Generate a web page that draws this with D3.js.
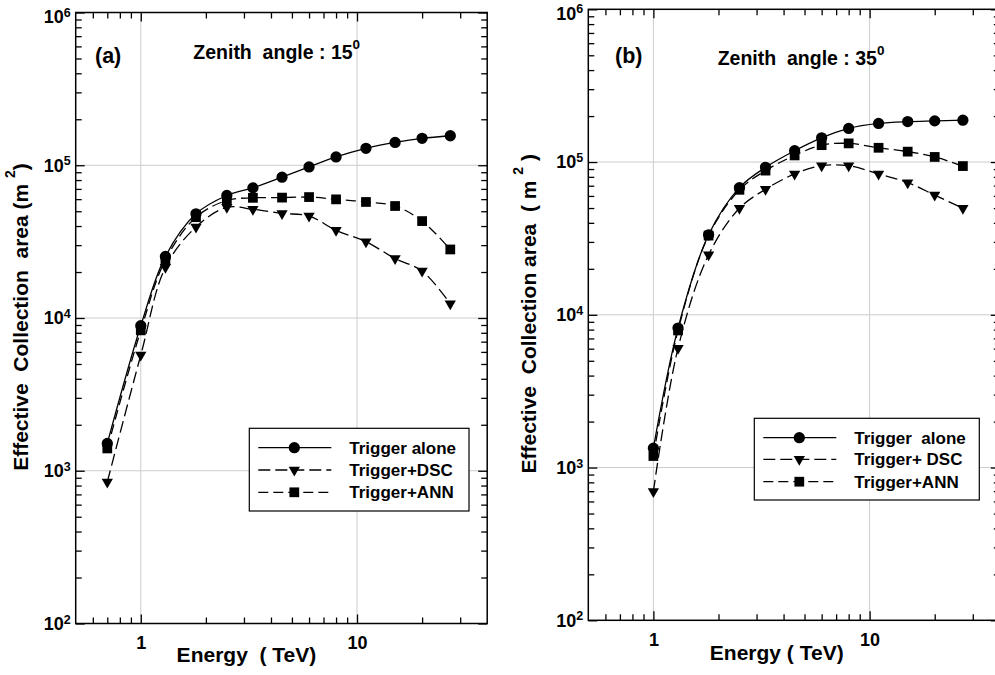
<!DOCTYPE html>
<html>
<head>
<meta charset="utf-8">
<script src="https://cdn.jsdelivr.net/npm/d3@7"></script>
<style>
  body { margin: 0; background: #fff; }
  svg text { font-family: "Liberation Sans", Arial, Helvetica, sans-serif; font-weight: bold; white-space: pre; }
</style>
</head>
<body>
<div id="chart-area"></div>
<script>
// energies (TeV) and effective collection area (m^2)
var energyA = [0.7, 1.0, 1.3, 1.8, 2.5, 3.3, 4.5, 6.0, 8.0, 11, 15, 20, 27];
var triggerA = [1510, 8900, 25300, 48100, 63400, 71100, 83500, 97500, 113400, 129000, 141000, 150000, 156000];
var dscA = [845, 5720, 21500, 39400, 53000, 51500, 48400, 46500, 37500, 31600, 24500, 20300, 12400];
var annA = [1400, 8300, 24000, 45700, 58800, 61200, 61400, 61900, 59800, 57500, 54100, 43100, 28100];

var energyB = [1.0, 1.3, 1.8, 2.5, 3.3, 4.5, 6.0, 8.0, 11, 15, 20, 27];
var triggerB = [1340, 8190, 33400, 68000, 92300, 118600, 144000, 166000, 179000, 184000, 186000, 188000];
var dscB = [697, 6050, 24700, 49800, 66300, 83600, 94600, 94600, 83600, 73300, 60800, 49800];
var annB = [1190, 7900, 33000, 65800, 87900, 110500, 129000, 132500, 124000, 117000, 108000, 94100];

var xMajor = [1, 10];
var xMinor = [0.6, 0.7, 0.8, 0.9, 2, 3, 4, 5, 6, 7, 8, 9, 20, 30];
var yMajor = [1e2, 1e3, 1e4, 1e5, 1e6];
var yMinor = [];
[1e2, 1e3, 1e4, 1e5].forEach(function (d) {
    for (var k = 2; k <= 9; k++) yMinor.push(d * k);
});

var svg = d3.select("#chart-area")
    .append("svg")
    .attr("width", 995)
    .attr("height", 675);

var width = 411.5, height = 611;

function drawPanel(p) {
    var g = svg.append("g")
        .attr("transform", "translate(" + p.left + "," + p.top + ")");

    var x = d3.scaleLog().domain([0.5, 40]).range([0, width]);
    var y = d3.scaleLog().domain([100, 1e6]).range([height, 0]);

    // grid
    g.selectAll(".gx").data(xMajor).enter().append("line")
        .attr("x1", d => x(d)).attr("x2", d => x(d))
        .attr("y1", 0).attr("y2", height)
        .attr("stroke", "#cccccc").attr("stroke-width", 1);
    g.selectAll(".gy").data([1e3, 1e4, 1e5]).enter().append("line")
        .attr("x1", 0).attr("x2", width)
        .attr("y1", d => y(d)).attr("y2", d => y(d))
        .attr("stroke", "#cccccc").attr("stroke-width", 1);

    // axes with inward ticks
    function ax(axis, tr, vals, size, fmt, pad) {
        var a = g.append("g")
            .attr("transform", tr)
            .call(axis.tickValues(vals).tickSizeInner(-size).tickSizeOuter(0)
                .tickPadding(pad || 3).tickFormat(fmt || (() => "")));
        a.select(".domain").remove();
        a.selectAll("line").attr("stroke", "#000").attr("stroke-width", 1.3);
        return a;
    }
    var xb = ax(d3.axisBottom(x), "translate(0," + height + ")", xMajor, 9, d => d, 13);
    xb.selectAll("text").attr("font-size", 18).attr("fill", "#000").attr("dy", "0.71em");
    ax(d3.axisBottom(x), "translate(0," + height + ")", xMinor, 6);
    ax(d3.axisTop(x), "translate(0,0)", xMajor, 9);
    ax(d3.axisTop(x), "translate(0,0)", xMinor, 6);
    var yl = ax(d3.axisLeft(y), "translate(0,0)", yMajor, 9, d => d, 5);
    yl.selectAll("text")
        .attr("font-size", 18).attr("fill", "#000")
        .attr("y", d => d === 1e6 ? 4 : 0)
        .text(null)
        .each(function (d) {
            var t = d3.select(this);
            t.append("tspan").text("10");
            t.append("tspan").attr("font-size", 12.5).attr("dy", "-0.5em")
                .text(Math.round(Math.log10(d)));
        });
    ax(d3.axisLeft(y), "translate(0,0)", yMinor, 6);
    ax(d3.axisRight(y), "translate(" + width + ",0)", yMajor, 9);
    ax(d3.axisRight(y), "translate(" + width + ",0)", yMinor, 6);

    g.append("rect")
        .attr("width", width).attr("height", height)
        .attr("fill", "none").attr("stroke", "#000").attr("stroke-width", 1.5);

    // series
    var series = [
        { name: p.names[0], vals: p.trigger, dash: null, sym: d3.symbolCircle, size: 100, rot: 0 },
        { name: p.names[1], vals: p.dsc, dash: "12,5", sym: d3.symbolTriangle, size: 55, rot: 180 },
        { name: p.names[2], vals: p.ann, dash: "10,5", sym: d3.symbolSquare, size: 95, rot: 0 }
    ];

    var line = d3.line()
        .x(d => x(d[0]))
        .y(d => y(d[1]))
        .curve(d3.curveCatmullRom.alpha(0.5));

    series.forEach(function (s) {
        var pts = p.energy.map((e, i) => [e, s.vals[i]]);
        g.append("path")
            .datum(pts)
            .attr("d", line)
            .attr("fill", "none")
            .attr("stroke", "#000")
            .attr("stroke-width", 1.3)
            .attr("stroke-dasharray", s.dash);
        g.selectAll(null).data(pts).enter().append("path")
            .attr("d", d3.symbol().type(s.sym).size(s.size))
            .attr("transform", d => "translate(" + x(d[0]) + "," + y(d[1]) + ") rotate(" + s.rot + ")")
            .attr("fill", "#000");
    });

    // legend
    var L = p.legend;
    var lg = g.append("g").attr("transform", "translate(" + L.x + "," + L.y + ")");
    lg.append("rect")
        .attr("width", L.w).attr("height", L.h)
        .attr("fill", "#fff").attr("stroke", "#000").attr("stroke-width", 1.2);
    series.forEach(function (s, i) {
        var ry = L.rows[i];
        lg.append("line")
            .attr("x1", 9).attr("x2", 82).attr("y1", ry).attr("y2", ry)
            .attr("stroke", "#000").attr("stroke-width", 1.3)
            .attr("stroke-dasharray", s.dash);
        lg.append("path")
            .attr("d", d3.symbol().type(s.sym).size(s.size))
            .attr("transform", "translate(45," + ry + ") rotate(" + s.rot + ")");
        lg.append("text")
            .attr("x", 100).attr("y", ry + 6)
            .attr("font-size", 17)
            .text(s.name);
    });

    // titles
    g.append("text")
        .attr("x", p.tag[0]).attr("y", p.tag[1])
        .attr("font-size", 21.5)
        .text(p.tag[2]);
    var z = g.append("text")
        .attr("x", p.zen[0]).attr("y", p.zen[1])
        .attr("font-size", 19.5)
        .text(p.zen[2]);
    z.append("tspan").attr("font-size", 13.5).attr("dy", "-0.75em").text("0");

    g.append("text")
        .attr("x", width / 2 + p.xt[0]).attr("y", height + p.xt[1])
        .attr("text-anchor", "middle")
        .attr("font-size", 21)
        .text(p.xt[2]);

    var yt = g.append("text")
        .attr("transform", "rotate(-90)")
        .attr("x", -(height / 2) + 1)
        .attr("y", p.yt[0])
        .attr("text-anchor", "middle")
        .attr("font-size", 21);
    yt.append("tspan").text(p.yt[1]);
    yt.append("tspan").attr("font-size", 14).attr("dy", "-0.9em").text("2");
    yt.append("tspan").attr("dy", "0.6em").text(p.yt[2]);
}

drawPanel({
    left: 75.7, top: 12.5,
    energy: energyA, trigger: triggerA, dsc: dscA, ann: annA,
    names: ["Trigger alone", "Trigger+DSC", "Trigger+ANN"],
    legend: { x: 173.6, y: 415.8, w: 219.7, h: 82.7, rows: [19.4, 41.7, 64] },
    tag: [19.3, 50.2, "(a)"],
    zen: [117.6, 46.8, "Zenith  angle : 15"],
    xt: [-35, 38, "Energy  ( TeV)"],
    yt: [-47.7, "Effective  Collection  area (m ", ")"]
});

drawPanel({
    left: 588.3, top: 9.3,
    energy: energyB, trigger: triggerB, dsc: dscB, ann: annB,
    names: ["Trigger  alone", "Trigger+ DSC", "Trigger+ANN"],
    legend: { x: 166, y: 409, w: 225, h: 81.7, rows: [19.4, 41, 63.4] },
    tag: [26.7, 53.7, "(b)"],
    zen: [129.4, 55.7, "Zenith  angle : 35"],
    xt: [-17.3, 40, "Energy ( TeV)"],
    yt: [-52.3, "Effective  Collection area  ( m ", " )"]
});
</script>
</body>
</html>
